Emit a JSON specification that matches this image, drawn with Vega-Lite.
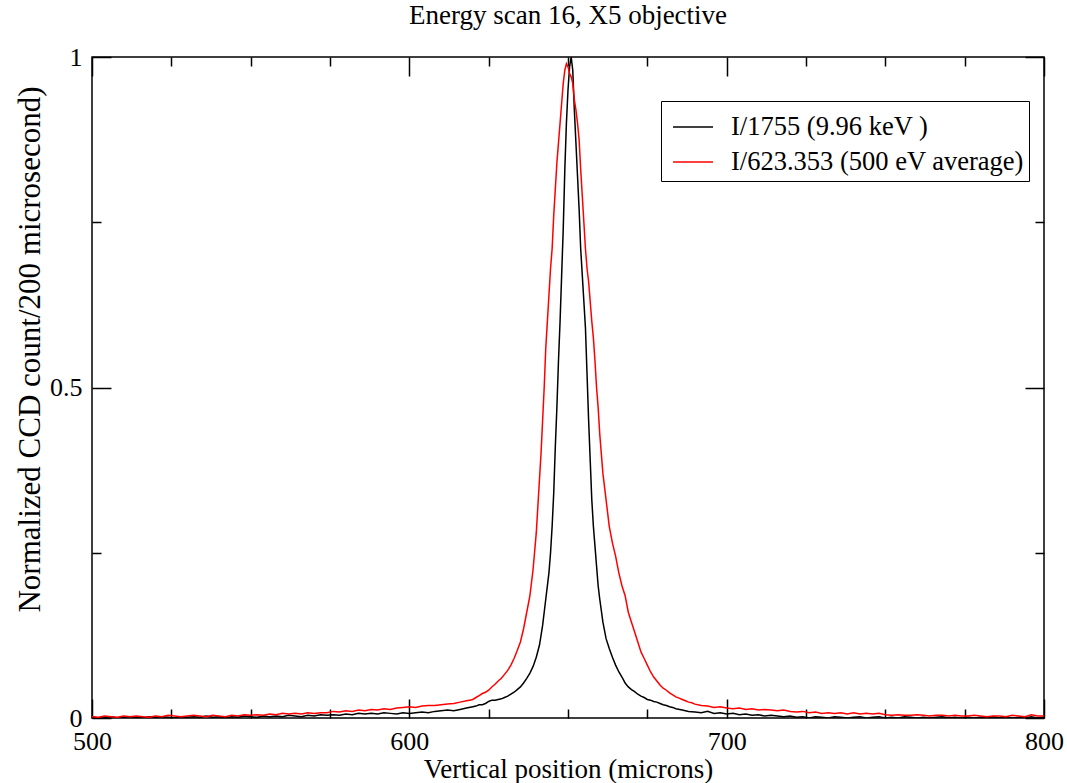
{
"$schema": "https://vega.github.io/schema/vega-lite/v6.json",
"width": 952, "height": 661,
"autosize": {"type": "none"},
"padding": {"left": 92, "top": 57, "right": 23, "bottom": 65},
"background": "white",
"title": {"text": "Energy scan 16, X5 objective", "font": "Liberation Serif", "fontSize": 27, "fontWeight": "normal", "color": "black", "baseline": "bottom", "offset": -13},
"config": {
 "view": {"stroke": "black", "strokeWidth": 1.5},
 "axis": {"domain": false, "grid": false, "tickColor": "black", "tickWidth": 1.5, "labelFont": "Liberation Serif", "labelFontSize": 26, "labelColor": "black", "titleFont": "Liberation Serif", "titleFontSize": 26, "titleFontWeight": "normal", "titleColor": "black", "labelOverlap": false, "labelFlush": false}
},
"data": {"values": [
{"s":"a","x":500,"y":0.002},{"s":"a","x":502,"y":0.0},{"s":"a","x":504,"y":0.001},{"s":"a","x":506,"y":0.002},{"s":"a","x":508,"y":0.0},{"s":"a","x":510,"y":0.001},{"s":"a","x":512,"y":0.002},{"s":"a","x":514,"y":0.001},{"s":"a","x":516,"y":0.0},{"s":"a","x":518,"y":0.002},{"s":"a","x":520,"y":0.001},{"s":"a","x":522,"y":0.002},{"s":"a","x":524,"y":0.001},{"s":"a","x":526,"y":0.0},{"s":"a","x":528,"y":0.002},{"s":"a","x":530,"y":0.001},{"s":"a","x":532,"y":0.002},{"s":"a","x":534,"y":0.001},{"s":"a","x":536,"y":0.003},{"s":"a","x":538,"y":0.001},{"s":"a","x":540,"y":0.002},{"s":"a","x":542,"y":0.0},{"s":"a","x":544,"y":0.002},{"s":"a","x":546,"y":0.001},{"s":"a","x":548,"y":0.003},{"s":"a","x":550,"y":0.002},{"s":"a","x":552,"y":0.001},{"s":"a","x":554,"y":0.003},{"s":"a","x":556,"y":0.002},{"s":"a","x":558,"y":0.003},{"s":"a","x":560,"y":0.002},{"s":"a","x":562,"y":0.004},{"s":"a","x":564,"y":0.003},{"s":"a","x":566,"y":0.002},{"s":"a","x":568,"y":0.004},{"s":"a","x":570,"y":0.003},{"s":"a","x":572,"y":0.005},{"s":"a","x":574,"y":0.004},{"s":"a","x":576,"y":0.005},{"s":"a","x":578,"y":0.004},{"s":"a","x":580,"y":0.006},{"s":"a","x":582,"y":0.005},{"s":"a","x":584,"y":0.007},{"s":"a","x":586,"y":0.006},{"s":"a","x":588,"y":0.007},{"s":"a","x":590,"y":0.006},{"s":"a","x":592,"y":0.008},{"s":"a","x":594,"y":0.007},{"s":"a","x":596,"y":0.006},{"s":"a","x":598,"y":0.008},{"s":"a","x":600,"y":0.007},{"s":"a","x":602,"y":0.008},{"s":"a","x":604,"y":0.009},{"s":"a","x":606,"y":0.008},{"s":"a","x":608,"y":0.010},{"s":"a","x":610,"y":0.011},{"s":"a","x":612,"y":0.012},{"s":"a","x":614,"y":0.011},{"s":"a","x":616,"y":0.013},{"s":"a","x":618,"y":0.015},{"s":"a","x":620,"y":0.017},{"s":"a","x":621,"y":0.018},{"s":"a","x":622,"y":0.020},{"s":"a","x":623,"y":0.020},{"s":"a","x":624,"y":0.022},{"s":"a","x":625,"y":0.025},{"s":"a","x":626,"y":0.027},{"s":"a","x":627,"y":0.027},{"s":"a","x":628,"y":0.028},{"s":"a","x":629,"y":0.029},{"s":"a","x":630,"y":0.031},{"s":"a","x":631,"y":0.033},{"s":"a","x":632,"y":0.036},{"s":"a","x":633,"y":0.039},{"s":"a","x":634,"y":0.043},{"s":"a","x":635,"y":0.047},{"s":"a","x":636,"y":0.053},{"s":"a","x":637,"y":0.060},{"s":"a","x":638,"y":0.068},{"s":"a","x":639,"y":0.078},{"s":"a","x":640,"y":0.092},{"s":"a","x":641,"y":0.110},{"s":"a","x":641.5,"y":0.125},{"s":"a","x":642,"y":0.140},{"s":"a","x":642.5,"y":0.16},{"s":"a","x":643,"y":0.18},{"s":"a","x":643.5,"y":0.20},{"s":"a","x":644,"y":0.22},{"s":"a","x":644.5,"y":0.25},{"s":"a","x":645,"y":0.29},{"s":"a","x":645.5,"y":0.34},{"s":"a","x":646,"y":0.41},{"s":"a","x":646.5,"y":0.47},{"s":"a","x":647,"y":0.54},{"s":"a","x":647.5,"y":0.60},{"s":"a","x":648,"y":0.67},{"s":"a","x":648.5,"y":0.74},{"s":"a","x":649,"y":0.83},{"s":"a","x":649.5,"y":0.90},{"s":"a","x":650,"y":0.95},{"s":"a","x":650.5,"y":0.985},{"s":"a","x":651,"y":1.0},{"s":"a","x":651.5,"y":0.98},{"s":"a","x":652,"y":0.92},{"s":"a","x":652.5,"y":0.87},{"s":"a","x":653,"y":0.82},{"s":"a","x":653.5,"y":0.77},{"s":"a","x":654,"y":0.71},{"s":"a","x":654.5,"y":0.67},{"s":"a","x":655,"y":0.63},{"s":"a","x":655.5,"y":0.59},{"s":"a","x":656,"y":0.52},{"s":"a","x":656.5,"y":0.45},{"s":"a","x":657,"y":0.39},{"s":"a","x":657.5,"y":0.33},{"s":"a","x":658,"y":0.29},{"s":"a","x":658.5,"y":0.26},{"s":"a","x":659,"y":0.23},{"s":"a","x":659.5,"y":0.20},{"s":"a","x":660,"y":0.18},{"s":"a","x":661,"y":0.145},{"s":"a","x":662,"y":0.12},{"s":"a","x":663,"y":0.105},{"s":"a","x":664,"y":0.092},{"s":"a","x":665,"y":0.08},{"s":"a","x":666,"y":0.07},{"s":"a","x":667,"y":0.062},{"s":"a","x":668,"y":0.053},{"s":"a","x":669,"y":0.047},{"s":"a","x":670,"y":0.043},{"s":"a","x":671,"y":0.040},{"s":"a","x":672,"y":0.036},{"s":"a","x":673,"y":0.033},{"s":"a","x":674,"y":0.031},{"s":"a","x":675,"y":0.028},{"s":"a","x":676,"y":0.027},{"s":"a","x":677,"y":0.025},{"s":"a","x":678,"y":0.024},{"s":"a","x":679,"y":0.022},{"s":"a","x":680,"y":0.020},{"s":"a","x":681,"y":0.019},{"s":"a","x":682,"y":0.017},{"s":"a","x":683,"y":0.016},{"s":"a","x":684,"y":0.014},{"s":"a","x":686,"y":0.012},{"s":"a","x":688,"y":0.010},{"s":"a","x":690,"y":0.009},{"s":"a","x":692,"y":0.008},{"s":"a","x":694,"y":0.010},{"s":"a","x":696,"y":0.007},{"s":"a","x":698,"y":0.008},{"s":"a","x":700,"y":0.006},{"s":"a","x":702,"y":0.007},{"s":"a","x":704,"y":0.005},{"s":"a","x":706,"y":0.006},{"s":"a","x":708,"y":0.004},{"s":"a","x":710,"y":0.005},{"s":"a","x":712,"y":0.003},{"s":"a","x":714,"y":0.004},{"s":"a","x":716,"y":0.003},{"s":"a","x":718,"y":0.002},{"s":"a","x":720,"y":0.003},{"s":"a","x":722,"y":0.001},{"s":"a","x":724,"y":0.002},{"s":"a","x":726,"y":0.0},{"s":"a","x":728,"y":0.002},{"s":"a","x":730,"y":0.001},{"s":"a","x":732,"y":0.0},{"s":"a","x":734,"y":0.002},{"s":"a","x":736,"y":0.001},{"s":"a","x":738,"y":0.0},{"s":"a","x":740,"y":0.001},{"s":"a","x":742,"y":0.002},{"s":"a","x":744,"y":0.0},{"s":"a","x":746,"y":0.001},{"s":"a","x":748,"y":0.002},{"s":"a","x":750,"y":0.0},{"s":"a","x":752,"y":0.001},{"s":"a","x":754,"y":0.0},{"s":"a","x":756,"y":0.002},{"s":"a","x":758,"y":0.001},{"s":"a","x":760,"y":0.0},{"s":"a","x":762,"y":0.001},{"s":"a","x":764,"y":0.0},{"s":"a","x":766,"y":0.001},{"s":"a","x":768,"y":0.002},{"s":"a","x":770,"y":0.0},{"s":"a","x":772,"y":0.001},{"s":"a","x":774,"y":0.0},{"s":"a","x":776,"y":0.001},{"s":"a","x":778,"y":0.0},{"s":"a","x":780,"y":0.001},{"s":"a","x":782,"y":0.0},{"s":"a","x":784,"y":0.002},{"s":"a","x":786,"y":0.0},{"s":"a","x":788,"y":0.001},{"s":"a","x":790,"y":0.0},{"s":"a","x":792,"y":0.001},{"s":"a","x":794,"y":0.0},{"s":"a","x":796,"y":0.002},{"s":"a","x":798,"y":0.0},{"s":"a","x":800,"y":0.001},
{"s":"b","x":500,"y":0.002},{"s":"b","x":502,"y":0.001},{"s":"b","x":504,"y":0.003},{"s":"b","x":506,"y":0.002},{"s":"b","x":508,"y":0.001},{"s":"b","x":510,"y":0.003},{"s":"b","x":512,"y":0.002},{"s":"b","x":514,"y":0.003},{"s":"b","x":516,"y":0.002},{"s":"b","x":518,"y":0.001},{"s":"b","x":520,"y":0.003},{"s":"b","x":522,"y":0.002},{"s":"b","x":524,"y":0.004},{"s":"b","x":526,"y":0.003},{"s":"b","x":528,"y":0.002},{"s":"b","x":530,"y":0.003},{"s":"b","x":532,"y":0.004},{"s":"b","x":534,"y":0.003},{"s":"b","x":536,"y":0.002},{"s":"b","x":538,"y":0.004},{"s":"b","x":540,"y":0.003},{"s":"b","x":542,"y":0.002},{"s":"b","x":544,"y":0.004},{"s":"b","x":546,"y":0.003},{"s":"b","x":548,"y":0.005},{"s":"b","x":550,"y":0.004},{"s":"b","x":552,"y":0.005},{"s":"b","x":554,"y":0.004},{"s":"b","x":556,"y":0.006},{"s":"b","x":558,"y":0.005},{"s":"b","x":560,"y":0.007},{"s":"b","x":562,"y":0.006},{"s":"b","x":564,"y":0.007},{"s":"b","x":566,"y":0.006},{"s":"b","x":568,"y":0.008},{"s":"b","x":570,"y":0.007},{"s":"b","x":572,"y":0.008},{"s":"b","x":574,"y":0.008},{"s":"b","x":576,"y":0.010},{"s":"b","x":578,"y":0.009},{"s":"b","x":580,"y":0.011},{"s":"b","x":582,"y":0.010},{"s":"b","x":584,"y":0.012},{"s":"b","x":586,"y":0.011},{"s":"b","x":588,"y":0.013},{"s":"b","x":590,"y":0.012},{"s":"b","x":592,"y":0.014},{"s":"b","x":594,"y":0.013},{"s":"b","x":596,"y":0.015},{"s":"b","x":598,"y":0.016},{"s":"b","x":600,"y":0.017},{"s":"b","x":602,"y":0.016},{"s":"b","x":604,"y":0.018},{"s":"b","x":606,"y":0.019},{"s":"b","x":608,"y":0.019},{"s":"b","x":610,"y":0.020},{"s":"b","x":612,"y":0.021},{"s":"b","x":614,"y":0.022},{"s":"b","x":616,"y":0.024},{"s":"b","x":618,"y":0.026},{"s":"b","x":619,"y":0.027},{"s":"b","x":620,"y":0.028},{"s":"b","x":621,"y":0.031},{"s":"b","x":622,"y":0.034},{"s":"b","x":623,"y":0.037},{"s":"b","x":624,"y":0.039},{"s":"b","x":625,"y":0.042},{"s":"b","x":626,"y":0.047},{"s":"b","x":627,"y":0.051},{"s":"b","x":628,"y":0.056},{"s":"b","x":629,"y":0.060},{"s":"b","x":630,"y":0.066},{"s":"b","x":631,"y":0.072},{"s":"b","x":632,"y":0.080},{"s":"b","x":633,"y":0.090},{"s":"b","x":634,"y":0.102},{"s":"b","x":635,"y":0.115},{"s":"b","x":636,"y":0.135},{"s":"b","x":637,"y":0.160},{"s":"b","x":638,"y":0.185},{"s":"b","x":639,"y":0.225},{"s":"b","x":640,"y":0.28},{"s":"b","x":640.5,"y":0.32},{"s":"b","x":641,"y":0.36},{"s":"b","x":641.5,"y":0.40},{"s":"b","x":642,"y":0.45},{"s":"b","x":642.5,"y":0.50},{"s":"b","x":643,"y":0.56},{"s":"b","x":643.5,"y":0.60},{"s":"b","x":644,"y":0.64},{"s":"b","x":644.5,"y":0.68},{"s":"b","x":645,"y":0.71},{"s":"b","x":645.5,"y":0.76},{"s":"b","x":646,"y":0.80},{"s":"b","x":646.5,"y":0.84},{"s":"b","x":647,"y":0.87},{"s":"b","x":647.5,"y":0.90},{"s":"b","x":648,"y":0.93},{"s":"b","x":648.5,"y":0.96},{"s":"b","x":649,"y":0.98},{"s":"b","x":649.5,"y":0.99},{"s":"b","x":650,"y":0.985},{"s":"b","x":650.5,"y":0.975},{"s":"b","x":651,"y":0.97},{"s":"b","x":651.5,"y":0.96},{"s":"b","x":652,"y":0.935},{"s":"b","x":652.5,"y":0.92},{"s":"b","x":653,"y":0.90},{"s":"b","x":653.5,"y":0.875},{"s":"b","x":654,"y":0.83},{"s":"b","x":654.5,"y":0.79},{"s":"b","x":655,"y":0.75},{"s":"b","x":655.5,"y":0.71},{"s":"b","x":656,"y":0.68},{"s":"b","x":656.5,"y":0.66},{"s":"b","x":657,"y":0.63},{"s":"b","x":657.5,"y":0.60},{"s":"b","x":658,"y":0.575},{"s":"b","x":658.5,"y":0.54},{"s":"b","x":659,"y":0.50},{"s":"b","x":659.5,"y":0.47},{"s":"b","x":660,"y":0.43},{"s":"b","x":660.5,"y":0.40},{"s":"b","x":661,"y":0.37},{"s":"b","x":661.5,"y":0.35},{"s":"b","x":662,"y":0.33},{"s":"b","x":663,"y":0.29},{"s":"b","x":664,"y":0.265},{"s":"b","x":665,"y":0.245},{"s":"b","x":666,"y":0.22},{"s":"b","x":667,"y":0.20},{"s":"b","x":668,"y":0.185},{"s":"b","x":669,"y":0.16},{"s":"b","x":670,"y":0.145},{"s":"b","x":671,"y":0.13},{"s":"b","x":672,"y":0.115},{"s":"b","x":673,"y":0.10},{"s":"b","x":674,"y":0.09},{"s":"b","x":675,"y":0.08},{"s":"b","x":676,"y":0.07},{"s":"b","x":677,"y":0.062},{"s":"b","x":678,"y":0.056},{"s":"b","x":679,"y":0.050},{"s":"b","x":680,"y":0.045},{"s":"b","x":681,"y":0.042},{"s":"b","x":682,"y":0.038},{"s":"b","x":683,"y":0.035},{"s":"b","x":684,"y":0.032},{"s":"b","x":685,"y":0.030},{"s":"b","x":686,"y":0.028},{"s":"b","x":687,"y":0.026},{"s":"b","x":688,"y":0.024},{"s":"b","x":689,"y":0.023},{"s":"b","x":690,"y":0.021},{"s":"b","x":692,"y":0.019},{"s":"b","x":694,"y":0.018},{"s":"b","x":696,"y":0.016},{"s":"b","x":698,"y":0.017},{"s":"b","x":700,"y":0.015},{"s":"b","x":702,"y":0.014},{"s":"b","x":704,"y":0.015},{"s":"b","x":706,"y":0.013},{"s":"b","x":708,"y":0.014},{"s":"b","x":710,"y":0.012},{"s":"b","x":712,"y":0.013},{"s":"b","x":714,"y":0.012},{"s":"b","x":716,"y":0.011},{"s":"b","x":718,"y":0.012},{"s":"b","x":720,"y":0.010},{"s":"b","x":722,"y":0.009},{"s":"b","x":724,"y":0.010},{"s":"b","x":726,"y":0.008},{"s":"b","x":728,"y":0.009},{"s":"b","x":730,"y":0.007},{"s":"b","x":732,"y":0.008},{"s":"b","x":734,"y":0.007},{"s":"b","x":736,"y":0.008},{"s":"b","x":738,"y":0.006},{"s":"b","x":740,"y":0.008},{"s":"b","x":742,"y":0.006},{"s":"b","x":744,"y":0.007},{"s":"b","x":746,"y":0.006},{"s":"b","x":748,"y":0.007},{"s":"b","x":750,"y":0.005},{"s":"b","x":752,"y":0.004},{"s":"b","x":754,"y":0.005},{"s":"b","x":756,"y":0.004},{"s":"b","x":758,"y":0.004},{"s":"b","x":760,"y":0.005},{"s":"b","x":762,"y":0.004},{"s":"b","x":764,"y":0.003},{"s":"b","x":766,"y":0.004},{"s":"b","x":768,"y":0.004},{"s":"b","x":770,"y":0.003},{"s":"b","x":772,"y":0.004},{"s":"b","x":774,"y":0.003},{"s":"b","x":776,"y":0.003},{"s":"b","x":778,"y":0.004},{"s":"b","x":780,"y":0.003},{"s":"b","x":782,"y":0.002},{"s":"b","x":784,"y":0.003},{"s":"b","x":786,"y":0.003},{"s":"b","x":788,"y":0.002},{"s":"b","x":790,"y":0.004},{"s":"b","x":792,"y":0.003},{"s":"b","x":794,"y":0.002},{"s":"b","x":796,"y":0.005},{"s":"b","x":798,"y":0.003},{"s":"b","x":800,"y":0.003}
]},
"layer": [
 {
  "mark": {"type": "line", "strokeWidth": 1.5, "clip": true},
  "encoding": {
   "x": {"field": "x", "type": "quantitative",
    "scale": {"domain": [500, 800], "nice": false, "zero": false},
    "axis": {"orient": "bottom", "values": [500,525,550,575,600,625,650,675,700,725,750,775,800],
      "labelExpr": "datum.value % 100 === 0 ? datum.label : ''",
      "tickSize": {"condition": {"test": "datum.value % 100 === 0", "value": -19}, "value": -9},
      "labelPadding": 29, "title": "Vertical position (microns)", "titleFontSize": 27, "titlePadding": -8}},
   "y": {"field": "y", "type": "quantitative",
    "scale": {"domain": [0, 1], "nice": false, "zero": false},
    "axis": {"orient": "left", "values": [0, 0.25, 0.5, 0.75, 1],
      "labelExpr": "datum.value === 0 ? '0' : datum.value === 0.5 ? '0.5' : datum.value === 1 ? '1' : ''",
      "tickSize": {"condition": {"test": "datum.value === 0 || datum.value === 0.5 || datum.value === 1", "value": -19}, "value": -9},
      "labelPadding": 29, "title": "Normalized CCD count/200 microsecond)", "titleFontSize": 31, "titleY": 292, "titlePadding": 3}},
   "color": {"field": "s", "type": "nominal",
    "scale": {"domain": ["a", "b"], "range": ["#000000", "#ff0000"]},
    "legend": {"title": null, "orient": "none", "legendX": 569, "legendY": 44,
      "strokeColor": "black", "fillColor": "white", "padding": 5, "symbolOffset": 6,
      "symbolType": "stroke", "symbolSize": 1600, "symbolStrokeWidth": 1.5,
      "labelFont": "Liberation Serif", "labelFontSize": 26.5, "labelColor": "black",
      "labelOffset": 17, "rowPadding": -8, "labelLimit": 0,
      "labelExpr": "datum.label === 'a' ? 'I/1755 (9.96 keV )' : 'I/623.353 (500 eV average)'"}}
  }
 },
 {
  "mark": {"type": "point", "opacity": 0},
  "encoding": {
   "x": {"field": "x", "type": "quantitative",
    "axis": {"orient": "top", "values": [500,525,550,575,600,625,650,675,700,725,750,775,800], "labels": false, "title": null,
      "tickSize": {"condition": {"test": "datum.value % 100 === 0", "value": -19}, "value": -9}}},
   "y": {"field": "y", "type": "quantitative",
    "axis": {"orient": "right", "values": [0, 0.25, 0.5, 0.75, 1], "labels": false, "title": null,
      "tickSize": {"condition": {"test": "datum.value === 0 || datum.value === 0.5 || datum.value === 1", "value": -19}, "value": -9}}}
  }
 }
],
"resolve": {"axis": {"x": "independent", "y": "independent"}}
}
